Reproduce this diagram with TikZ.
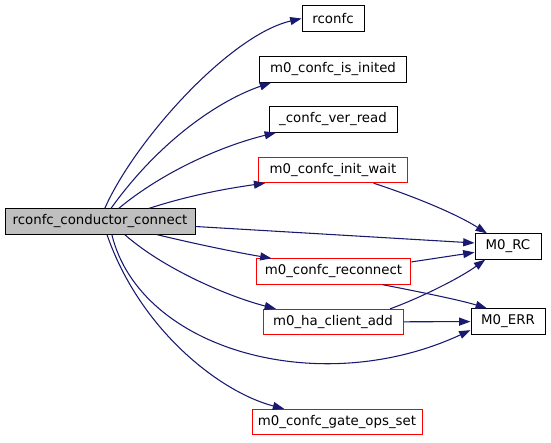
\documentclass[tikz,border=0pt]{standalone}
\usepackage{fontspec}
\setmainfont{DejaVu Sans}
\usetikzlibrary{arrows.meta}
\definecolor{edgeblue}{HTML}{191970}
\definecolor{rootgray}{HTML}{BFBFBF}
\tikzset{
  fn/.style={draw=black, rectangle, minimum height=19pt, inner sep=2pt,
    line width=0.75pt, font=\fontsize{10}{12}\selectfont},
  fnred/.style={fn, draw=red},
  call/.style={draw=edgeblue, line width=0.8pt,
    -{Triangle[length=8.5pt,width=6pt]}},
}
\begin{document}
\begin{tikzpicture}[x=0.75pt,y=-0.75pt]
				\useasboundingbox (0,0) rectangle (551,443);
				% functions
				\node[fn, fill=rootgray, minimum width=142.5pt] (root) at (100,221.5) {rconfc\_conductor\_connect};
				\node[fn, minimum width=46.5pt] (rconfc) at (333,18.5) {rconfc};
				\node[fn, minimum width=110pt] (inited) at (333,69.5) {m0\_confc\_is\_inited};
				\node[fn, minimum width=96pt] (verread) at (333,119.5) {\_confc\_ver\_read};
				\node[fnred, minimum width=112pt] (initwait) at (333,170) {m0\_confc\_init\_wait};
				\node[fn, minimum width=49.5pt] (rc) at (508,246.5) {M0\_RC};
				\node[fnred, minimum width=116pt] (reconnect) at (333.5,271.5) {m0\_confc\_reconnect};
				\node[fnred, minimum width=105pt] (haadd) at (333,322) {m0\_ha\_client\_add};
				\node[fn, minimum width=55.5pt] (err) at (508,321.5) {M0\_ERR};
				\node[fnred, minimum width=127.5pt] (gateops) at (337,422) {m0\_confc\_gate\_ops\_set};
				% calls
				\draw[call] (root.70) .. controls (135,140) and (230,35) .. (rconfc.west);
				\draw[call] (root.50) .. controls (160,140) and (220,100) .. (inited.192);
				\draw[call] (root.35) .. controls (165,170) and (225,145) .. (verread.193);
				\draw[call] (root.15) .. controls (190,195) and (230,188) .. (initwait.191);
				\draw[call] (root.-3) -- (rc.174);
				\draw[call] (root.-13) .. controls (200,245) and (240,253) .. (reconnect.168);
				\draw[call] (root.-28) .. controls (165,270) and (230,297) .. (haadd.167);
				\draw[call] (root.-48) .. controls (140,350) and (320,400) .. (err.193);
				\draw[call] (root.-62) .. controls (140,330) and (220,392) .. (gateops.166);
				\draw[call] (initwait.-18) .. controls (410,195) and (455,213) .. (rc.148);
				\draw[call] (reconnect.7) -- (rc.190);
				\draw[call] (reconnect.-15) .. controls (420,292) and (460,300) .. (err.148);
				\draw[call] (haadd.13) .. controls (420,298) and (460,278) .. (rc.210);
				\draw[call] (haadd) -- (err);
\end{tikzpicture}
\end{document}
